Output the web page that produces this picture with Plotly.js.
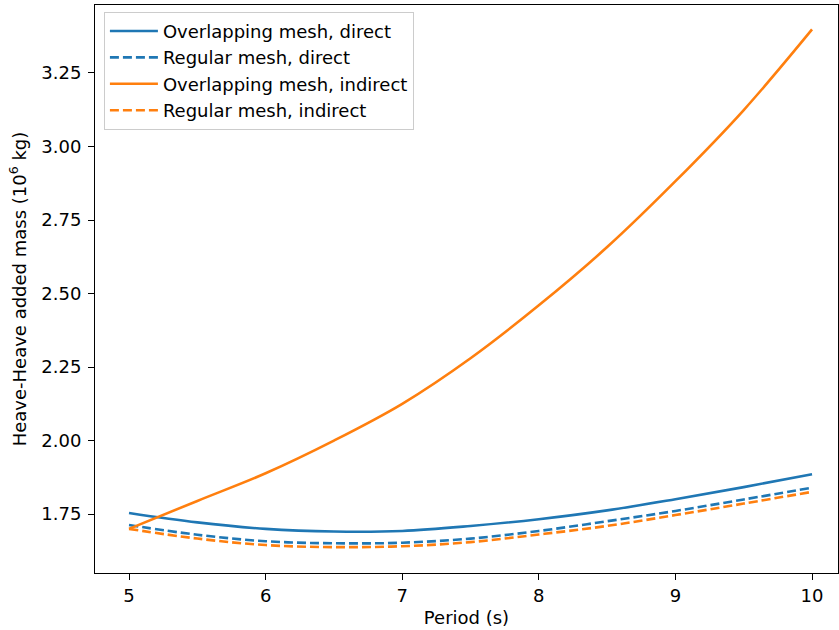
<!DOCTYPE html>
<html>
<head>
<meta charset="utf-8">
<script src="https://cdn.plot.ly/plotly-3.0.1.min.js"></script>
<style>html,body{margin:0;padding:0;background:#fff;}#chart{width:839px;height:630px;}</style>
</head>
<body>
<div id="chart"></div>
<script>
const period = [5, 5.5, 6, 6.5, 7, 7.5, 8, 8.5, 9, 9.5, 10];
const overlappingDirect = [1.754, 1.722, 1.700, 1.691, 1.693, 1.710, 1.733, 1.763, 1.801, 1.842, 1.886];
const regularDirect = [1.713, 1.680, 1.658, 1.651, 1.653, 1.667, 1.693, 1.726, 1.761, 1.800, 1.840];
const overlappingIndirect = [1.700, 1.795, 1.889, 2.000, 2.125, 2.280, 2.460, 2.658, 2.882, 3.124, 3.398];
const regularIndirect = [1.700, 1.667, 1.645, 1.638, 1.641, 1.655, 1.681, 1.710, 1.747, 1.786, 1.826];
const seriesNames = ["Overlapping mesh, direct", "Regular mesh, direct", "Overlapping mesh, indirect", "Regular mesh, indirect"];

const blue = "#1f77b4", orange = "#ff7f0e";
const mk = (y, name, color, dash) => ({
  x: period, y: y, name: name, type: "scatter", mode: "lines",
  line: {color: color, width: 2.6, dash: dash, shape: "spline", smoothing: 1}
});
const data = [
  mk(overlappingDirect, seriesNames[0], blue, "solid"),
  mk(regularDirect, seriesNames[1], blue, "9px,4px"),
  mk(overlappingIndirect, seriesNames[2], orange, "solid"),
  mk(regularIndirect, seriesNames[3], orange, "9px,4px")
];
const font = {family: "DejaVu Sans, sans-serif", size: 18, color: "#000"};
const layout = {
  width: 839, height: 630,
  margin: {l: 95, r: 1, t: 5, b: 57},
  paper_bgcolor: "#fff", plot_bgcolor: "#fff",
  font: font,
  showlegend: true,
  legend: {x: 0.012, y: 0.988, xanchor: "left", yanchor: "top",
    bgcolor: "rgba(255,255,255,0.8)", bordercolor: "#cccccc", borderwidth: 1,
    itemwidth: 48, font: font},
  xaxis: {range: [4.751, 10.19], tickvals: [5,6,7,8,9,10], ticktext: ["5","6","7","8","9","10"],
    ticks: "outside", ticklen: 6, tickwidth: 1, tickcolor: "#000",
    showline: true, linecolor: "#000", linewidth: 1, mirror: true,
    showgrid: false, zeroline: false,
    title: {text: "Period (s)", font: font, standoff: 6}},
  yaxis: {range: [1.55, 3.481], tickvals: [1.75, 2.0, 2.25, 2.5, 2.75, 3.0, 3.25],
    ticktext: ["1.75","2.00","2.25","2.50","2.75","3.00","3.25"],
    ticks: "outside", ticklen: 6, tickwidth: 1, tickcolor: "#000",
    ticklabelstandoff: 3,
    showline: true, linecolor: "#000", linewidth: 1, mirror: true,
    showgrid: false, zeroline: false,
    title: {text: "Heave-Heave added mass (10<sup>6</sup> kg)", font: font, standoff: 10}}
};
Plotly.newPlot("chart", data, layout, {displayModeBar: false, staticPlot: true});
</script>
</body>
</html>
